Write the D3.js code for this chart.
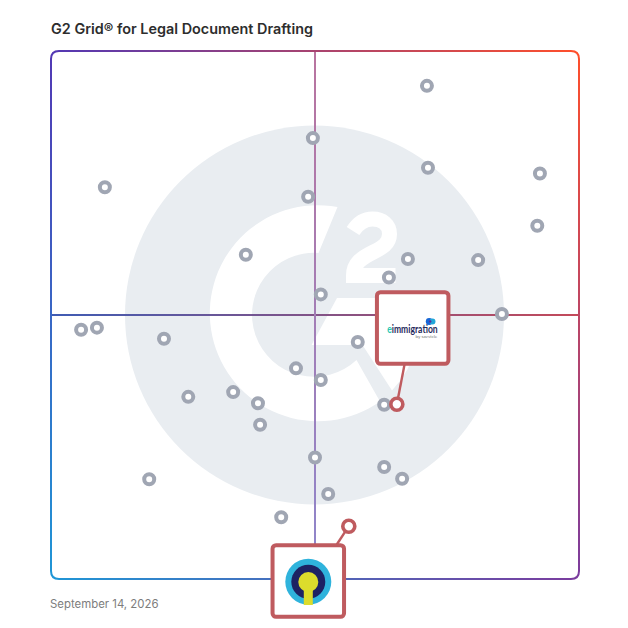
<!DOCTYPE html>
<html><head><meta charset="utf-8">
<script src="https://cdnjs.cloudflare.com/ajax/libs/d3/7.8.5/d3.min.js"></script>
<style>html,body{margin:0;padding:0;background:#fff}svg{display:block}</style>
</head><body><svg id="c" width="628" height="628"></svg>
<script>
const titleText = "G2 Grid® for Legal Document Drafting";
const dateText = "September 14, 2026";
// Satisfaction (x) and market presence (y), 0-100
const satisfaction = [71.2,49.6,71.4,92.6,10.2,48.7,92.1,36.9,67.6,80.9,64,51.1,85.4,5.7,8.7,21.4,58.1,46.4,51.1,34.5,26,39.2,63.1,39.6,50,63.1,66.5,18.6,52.5,43.6];
const presence = [93.4,83.5,77.9,76.8,74.2,72.4,66.9,61.4,60.6,60.4,57.1,53.9,50.2,47.2,47.6,45.5,44.9,39.9,37.7,35.4,34.5,33.3,33,29.2,23,21.2,19,18.9,16.1,11.7];
const featuredX = [65.5,56.4];
const featuredY = [33.1,10];
const featuredBoxX = [68.5,48.73];
const featuredBoxY = [47.54,-0.38];

const svg = d3.select("#c");
const x = d3.scaleLinear().domain([0,100]).range([51,579]);
const y = d3.scaleLinear().domain([0,100]).range([579,51]);
const defs = svg.append("defs");
function grad(id,x1,y1,x2,y2,c1,c2){
  const g = defs.append("linearGradient").attr("id",id).attr("gradientUnits","userSpaceOnUse")
    .attr("x1",x1).attr("y1",y1).attr("x2",x2).attr("y2",y2);
  g.append("stop").attr("offset",0).attr("stop-color",c1);
  g.append("stop").attr("offset",1).attr("stop-color",c2);
}
const TL="#5238b4",TR="#ff4f2b",BR="#7b3c9e",BL="#1f96d6";
const x0=x(0),x1=x(100),y0=y(100),y1=y(0),xm=x(50),ym=y(50),r=8;
grad("gt",x0,y0,x1,y0,TL,TR);
grad("gr",x1,y0,x1,y1,TR,BR);
grad("gb",x0,y1,x1,y1,BL,BR);
grad("gl",x0,y0,x0,y1,TL,BL);
grad("gh",x0,ym,x1,ym,"#3f5cb4","#c44a5a");
grad("gv",xm,y0,xm,y1,"#b9749f","#8d86cc");

// G2 watermark
const logo = svg.append("g").attr("transform",`translate(${xm-0.5},${ym})`);
logo.append("circle").attr("r",189.5).attr("fill","#e9edf1");
logo.append("path").attr("fill","#fff").attr("d",
 "M23,-108 A108,108 0 1 0 65.5,86.5 L42,45 A62,62 0 1 1 4,-62 Z");
logo.append("path").attr("fill","#fff").attr("d",
 "M22.5,-17 L105,-17 A108,108 0 0 1 77.5,75.5 L48,30 L-3,30 Z");
logo.append("path").attr("fill","none").attr("stroke","#fff").attr("stroke-width",15)
 .attr("stroke-linejoin","miter")
 .attr("d","M38.5,-84 C43,-91 50,-96 58,-96 C68,-96 75,-90 75,-81 C75,-71 67,-67 59,-63 C47,-57 39,-52 39,-39.5 L81,-39.5");

// Quadrant lines
svg.append("line").attr("x1",x0).attr("x2",x1).attr("y1",ym).attr("y2",ym).attr("stroke","url(#gh)").attr("stroke-width",2);
svg.append("line").attr("x1",xm).attr("x2",xm).attr("y1",y0).attr("y2",y1).attr("stroke","url(#gv)").attr("stroke-width",2);

// Frame
const edge = (d,id)=>svg.append("path").attr("d",d).attr("fill","none").attr("stroke",`url(#${id})`).attr("stroke-width",2);
edge(`M${x0},${y0+r} Q${x0},${y0} ${x0+r},${y0} L${x1-r},${y0}`,"gt");
edge(`M${x1-r},${y0} Q${x1},${y0} ${x1},${y0+r} L${x1},${y1-r}`,"gr");
edge(`M${x1},${y1-r} Q${x1},${y1} ${x1-r},${y1} L${x0+r},${y1}`,"gb");
edge(`M${x0+r},${y1} Q${x0},${y1} ${x0},${y1-r} L${x0},${y0+r}`,"gl");

// Markers
svg.append("g").selectAll("circle").data(satisfaction).join("circle")
  .attr("cx",d=>x(d)).attr("cy",(d,i)=>y(presence[i])).attr("r",5)
  .attr("fill","#fff").attr("stroke","#a0a6b3").attr("stroke-width",4);

// Featured
const RED="#bf5b5f", W=71.5;
const boxCx = i=>x(featuredBoxX[i]), boxCy = i=>y(featuredBoxY[i]);
featuredX.forEach((v,i)=>{
  svg.append("line").attr("x1",x(v)).attr("y1",y(featuredY[i]))
    .attr("x2",i==0?boxCx(i)-8:boxCx(i)+28).attr("y2",i==0?boxCy(i)+W/2:boxCy(i)-W/2)
    .attr("stroke",RED).attr("stroke-width",2.4);
  svg.append("circle").attr("cx",x(v)).attr("cy",y(featuredY[i])).attr("r",6)
    .attr("fill","#fff").attr("stroke",RED).attr("stroke-width",3.6);
  svg.append("rect").attr("x",boxCx(i)-W/2).attr("y",boxCy(i)-W/2).attr("width",W).attr("height",W).attr("rx",3.5)
    .attr("fill","#fff").attr("stroke",RED).attr("stroke-width",4);
});

// eimmigration logo
const b0x=boxCx(0), b0y=boxCy(0);
const t = svg.append("text").attr("x",b0x-25.5).attr("y",b0y+5).attr("text-anchor","start")
  .attr("font-family","Lato, sans-serif").attr("font-weight",700).attr("font-size",11).attr("textLength",50.5).attr("lengthAdjust","spacingAndGlyphs").attr("fill","#1f2a5c");
t.append("tspan").attr("fill","#27c7b0").text("e");
t.append("tspan").text("immigration");
svg.append("text").attr("x",b0x+24.5).attr("y",b0y+10.5).attr("text-anchor","end")
  .attr("font-family","Lato, sans-serif").attr("font-size",4.6).attr("fill","#777").text("by savvicle");
const cloud = svg.append("g").attr("transform",`translate(${b0x+18},${b0y-6.5})`);
cloud.append("circle").attr("r",3.4).attr("cx",-1.5).attr("fill","#1766d6");
cloud.append("circle").attr("r",3).attr("cx",1.8).attr("fill","#21a6d8");
cloud.append("circle").attr("r",1.2).attr("cx",-0.5).attr("fill","#5a2a9a");

// yellow logo
const b1x=boxCx(1), b1y=boxCy(1);
const ic = svg.append("g").attr("transform",`translate(${b1x},${b1y})`);
ic.append("circle").attr("r",23).attr("cy",0.7).attr("fill","#2fb3dc");
ic.append("circle").attr("r",17).attr("cy",0.7).attr("fill","#1d2263");
ic.append("rect").attr("x",-4.5).attr("y",0).attr("width",9).attr("height",24).attr("fill","#dcdc2c");
ic.append("circle").attr("r",10).attr("cy",1).attr("fill","#dcdc2c");

// Text
svg.append("text").attr("x",51).attr("y",34).attr("font-family","Inter, sans-serif").attr("font-weight",600)
  .attr("font-size",14).attr("textLength",262).attr("lengthAdjust","spacingAndGlyphs").attr("fill","#2d2d2d").text(titleText);
svg.append("text").attr("x",50).attr("y",608).attr("font-family","Inter, sans-serif")
  .attr("font-size",11.4).attr("fill","#7d7d7d").text(dateText);
</script></body></html>
